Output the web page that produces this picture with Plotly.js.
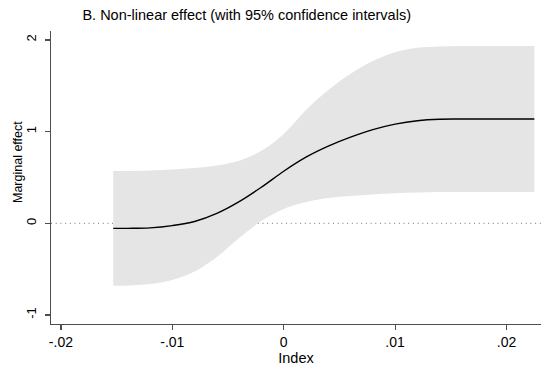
<!DOCTYPE html>
<html>
<head>
<meta charset="utf-8">
<script src="https://cdn.plot.ly/plotly-3.0.1.min.js"></script>
<style>
  html, body { margin: 0; padding: 0; background: #fff; }
  #chart { width: 541px; height: 367px; }
</style>
</head>
<body>
<div id="chart"></div>
<script>
// Index values at which the marginal effect was evaluated
const indexValues = [-0.0153, -0.014, -0.012, -0.010, -0.008, -0.006, -0.004, -0.002, 0, 0.002,
                     0.004, 0.006, 0.008, 0.010, 0.012, 0.014, 0.016, 0.018, 0.020, 0.0225];
// Point estimate of the marginal effect
const marginalEffect = [-0.055, -0.055, -0.050, -0.025, 0.020, 0.108, 0.236, 0.394, 0.568, 0.721,
                        0.841, 0.939, 1.021, 1.081, 1.119, 1.135, 1.137, 1.137, 1.137, 1.137];
// 95% confidence bounds
const ciUpper = [0.570, 0.571, 0.576, 0.587, 0.603, 0.630, 0.683, 0.790, 0.975, 1.236,
                 1.454, 1.632, 1.770, 1.866, 1.914, 1.928, 1.933, 1.933, 1.933, 1.933];
const ciLower = [-0.680, -0.678, -0.662, -0.618, -0.526, -0.367, -0.160, 0.025, 0.156, 0.232,
                 0.276, 0.298, 0.314, 0.327, 0.336, 0.341, 0.341, 0.341, 0.341, 0.341];

// Axis ticks
const xTickVals = [-0.02, -0.01, 0, 0.01, 0.02];
const xTickText = ['-.02', '-.01', '0', '.01', '.02'];
const yTickVals = [-1, 0, 1, 2];
const yTickText = ['-1', '0', '1', '2'];

const FONT = 'Liberation Sans, Arial, Helvetica, sans-serif';
const AXIS_COLOR = '#4d4d4d';
const BAND_COLOR = '#e5e5e5';
const smooth = { shape: 'spline', smoothing: 1 };

const traces = [
  {
    x: indexValues, y: ciLower, type: 'scatter', mode: 'lines',
    line: Object.assign({ width: 0, color: BAND_COLOR }, smooth),
    hoverinfo: 'skip', showlegend: false
  },
  {
    x: indexValues, y: ciUpper, type: 'scatter', mode: 'lines',
    fill: 'tonexty', fillcolor: BAND_COLOR,
    line: Object.assign({ width: 0, color: BAND_COLOR }, smooth),
    hoverinfo: 'skip', showlegend: false
  },
  {
    x: indexValues, y: marginalEffect, type: 'scatter', mode: 'lines',
    line: Object.assign({ width: 1.4, color: '#000000' }, smooth),
    showlegend: false
  }
];

const layout = {
  width: 541, height: 367,
  margin: { l: 51, r: 0, t: 31, b: 43, pad: 0 },
  paper_bgcolor: '#ffffff', plot_bgcolor: '#ffffff',
  font: { family: FONT, color: '#000000', size: 14 },
  showlegend: false,
  title: {
    text: 'B. Non-linear effect (with 95% confidence intervals)',
    font: { family: FONT, size: 14.5, color: '#000000' },
    xref: 'container', x: 0.456, xanchor: 'center',
    yref: 'container', y: 1 - 15 / 367, yanchor: 'middle'
  },
  xaxis: {
    range: [-0.020889, 0.023097],
    tickmode: 'array', tickvals: xTickVals, ticktext: xTickText,
    ticks: 'outside', ticklen: 5, tickwidth: 1.2, tickcolor: AXIS_COLOR,
    tickfont: { family: FONT, size: 14, color: '#000000' },
    showline: true, linecolor: AXIS_COLOR, linewidth: 1.3,
    showgrid: false, zeroline: false, automargin: false,
    title: { text: 'Index', font: { family: FONT, size: 14.5, color: '#000000' }, standoff: 2 }
  },
  yaxis: {
    range: [-1.098, 2.097],
    tickmode: 'array', tickvals: yTickVals, ticktext: yTickText,
    tickangle: -90,
    ticks: 'outside', ticklen: 5, tickwidth: 1.2, tickcolor: AXIS_COLOR,
    tickfont: { family: FONT, size: 13, color: '#000000' },
    ticklabelstandoff: 4,
    showline: true, linecolor: AXIS_COLOR, linewidth: 1.3,
    showgrid: false, zeroline: false, automargin: false
  },
  annotations: [
    {
      // vertical axis title
      text: 'Marginal effect', textangle: -90, showarrow: false,
      xref: 'paper', x: (18 - 51) / 490, xanchor: 'center',
      yref: 'paper', y: (324 - 162) / 293, yanchor: 'middle',
      font: { family: FONT, size: 12.5, color: '#000000' }
    }
  ],
  shapes: [
    {
      // reference line at zero effect, drawn beneath the band
      type: 'line', layer: 'below',
      xref: 'paper', x0: 0, x1: 1,
      yref: 'y', y0: 0, y1: 0,
      line: { color: '#707070', width: 1, dash: '1px,3.7px' }
    }
  ]
};

Plotly.newPlot('chart', traces, layout, { staticPlot: true, displayModeBar: false });
</script>
</body>
</html>
